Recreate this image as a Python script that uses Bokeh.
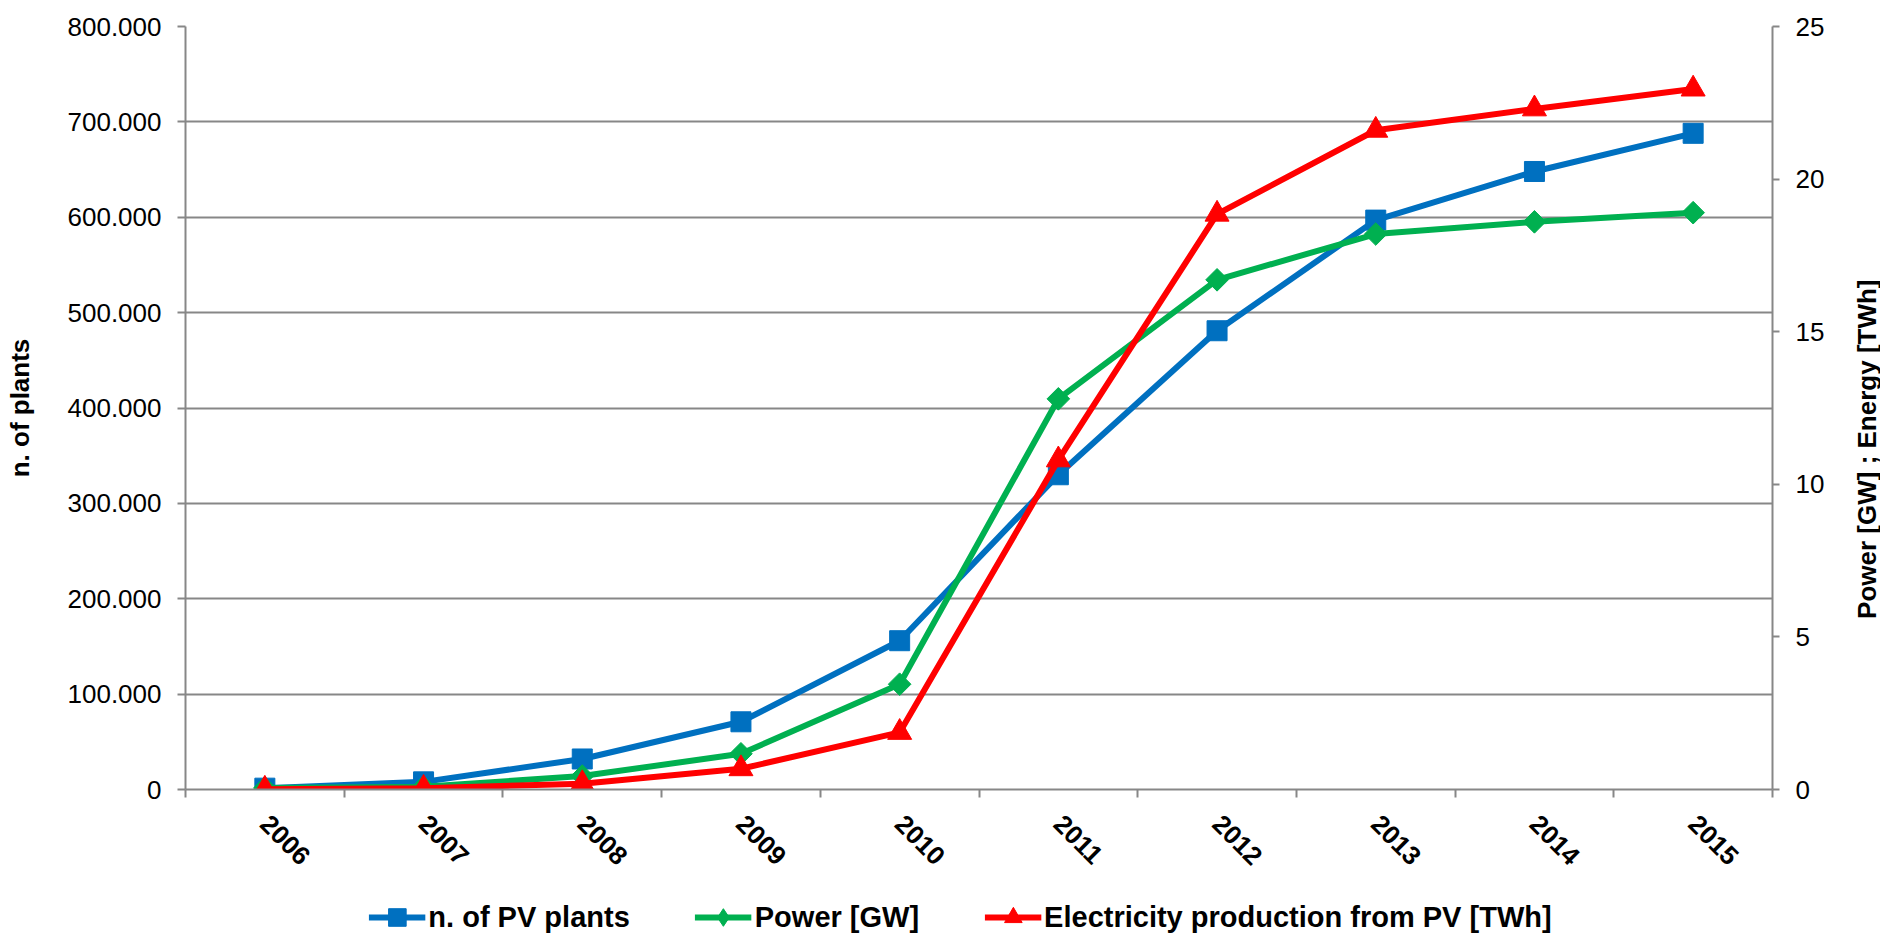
import math
from bokeh.plotting import figure
from bokeh.layouts import column, row
from bokeh.models import Range1d, LinearAxis, FixedTicker, Legend, LegendItem, Label
from bokeh.embed import file_html
from bokeh.resources import INLINE

# ---- data ----
years = ["2006", "2007", "2008", "2009", "2010", "2011", "2012", "2013", "2014", "2015"]
plants = [1400, 8000, 32000, 71000, 156000, 330000, 481000, 597000, 648000, 688000]
power_gw = [0.05, 0.09, 0.44, 1.17, 3.45, 12.8, 16.7, 18.2, 18.6, 18.9]
energy_twh = [0.01, 0.04, 0.19, 0.68, 1.87, 10.8, 18.85, 21.6, 22.3, 22.95]
left_ticks = [0, 100000, 200000, 300000, 400000, 500000, 600000, 700000, 800000]
right_ticks = [0, 5, 10, 15, 20, 25]
series_labels = ["n. of PV plants", "Power [GW]", "Electricity production from PV [TWh]"]
left_title = "n. of plants"
right_title = "Power [GW] ; Energy [TWh]"

BLUE = "#0070C0"
GREEN = "#00B050"
RED = "#FF0000"
GRAY = "#878787"
FONT = "Liberation Sans"

n = len(years)
xc = [i + 0.5 for i in range(n)]
bounds = list(range(n + 1))

W = 1880          # total width
WR = 28           # width of right title strip
WP = W - WR       # main figure width
H1, H2 = 876, 58
FL, FT, FR, FB = 185, 26, 1772, 790  # frame box in canvas px

p = figure(width=WP, height=H1, output_backend="svg", toolbar_location=None,
           x_range=Range1d(0, n), y_range=Range1d(left_ticks[0], left_ticks[-1]),
           min_border_left=FL, min_border_top=FT,
           min_border_right=WP - FR, min_border_bottom=H1 - FB)
p.outline_line_color = None
p.background_fill_color = "white"
p.border_fill_color = "white"

p.extra_y_ranges = {"right": Range1d(right_ticks[0], right_ticks[-1])}

# x axis
xa = p.xaxis[0]
xa.ticker = FixedTicker(ticks=xc, minor_ticks=bounds)
xa.major_label_overrides = {x: y for x, y in zip(xc, years)}
xa.major_tick_out = 0
xa.major_tick_in = 0
xa.minor_tick_out = 8
xa.minor_tick_in = 0
xa.minor_tick_line_color = GRAY
xa.minor_tick_line_width = 2
xa.axis_line_color = GRAY
xa.axis_line_width = 2
xa.major_label_orientation = -math.pi / 4
xa.major_label_standoff = 22
xa.major_label_text_font = FONT
xa.major_label_text_font_size = "26px"
xa.major_label_text_font_style = "bold"
xa.major_label_text_color = "black"

# left axis
ya = p.yaxis[0]
ya.ticker = FixedTicker(ticks=left_ticks)
ya.major_label_overrides = {v: f"{v:,}".replace(",", ".") for v in left_ticks}
ya.minor_tick_line_color = None
ya.major_tick_out = 8
ya.major_tick_in = 0
ya.major_tick_line_color = GRAY
ya.major_tick_line_width = 2
ya.axis_line_color = GRAY
ya.axis_line_width = 2
ya.major_label_standoff = 16
ya.major_label_text_font = FONT
ya.major_label_text_font_size = "26px"
ya.major_label_text_color = "black"
ya.axis_label = left_title
ya.axis_label_text_font = FONT
ya.axis_label_text_font_size = "26px"
ya.axis_label_text_font_style = "bold"
ya.axis_label_text_color = "black"
ya.axis_label_standoff = 30

# right axis
ra = LinearAxis(y_range_name="right", ticker=FixedTicker(ticks=right_ticks))
ra.minor_tick_line_color = None
ra.major_tick_out = 7
ra.major_tick_in = 0
ra.major_tick_line_color = GRAY
ra.major_tick_line_width = 2
ra.axis_line_color = GRAY
ra.axis_line_width = 2
ra.major_label_standoff = 16
ra.major_label_text_font = FONT
ra.major_label_text_font_size = "26px"
ra.major_label_text_color = "black"
p.add_layout(ra, "right")

# grid
p.xgrid.visible = False
p.ygrid.ticker = FixedTicker(ticks=left_ticks)
p.ygrid.grid_line_color = GRAY
p.ygrid.grid_line_width = 2

# series
LW = 6
MS = dict(square=20, diamond=16, triangle=24)
p.line(xc, plants, line_color=BLUE, line_width=LW)
p.scatter(xc, plants, marker="square", size=MS["square"], fill_color=BLUE, line_color=BLUE)
p.line(xc, power_gw, line_color=GREEN, line_width=LW, y_range_name="right")
p.scatter(xc, power_gw, marker="square", angle=math.pi / 4, size=MS["diamond"],
          fill_color=GREEN, line_color=GREEN, y_range_name="right")
p.line(xc, energy_twh, line_color=RED, line_width=LW, y_range_name="right")
p.scatter(xc, energy_twh, marker="triangle", size=MS["triangle"], fill_color=RED,
          line_color=RED, y_range_name="right")

# right axis title strip (reads bottom-to-top), frame aligned with the main frame
r = figure(width=WR, height=H1, output_backend="svg", toolbar_location=None,
           x_range=Range1d(0, 1), y_range=Range1d(right_ticks[0], right_ticks[-1]),
           x_axis_type=None, y_axis_type=None,
           min_border_left=0, min_border_right=0, min_border_top=FT, min_border_bottom=H1 - FB)
r.outline_line_color = None
r.background_fill_color = "white"
r.border_fill_color = "white"
r.add_layout(Label(x=0.5, y=11.15, text=right_title, angle=math.pi / 2,
                   text_align="center", text_baseline="middle", text_font=FONT,
                   text_font_size="26px", text_font_style="bold", text_color="black"))

# legend strip (own small figure so it is not clipped); proxy glyphs sit outside its ranges
q = figure(width=W, height=H2, output_backend="svg", toolbar_location=None,
           x_range=Range1d(0, 1), y_range=Range1d(0, 1), x_axis_type=None, y_axis_type=None,
           min_border_left=40, min_border_right=0, min_border_top=24, min_border_bottom=0)
q.outline_line_color = None
q.background_fill_color = "white"
q.border_fill_color = "white"
colors = [BLUE, GREEN, RED]
markers = ["square", "diamond", "triangle"]
items = []
for lab, c, mk in zip(series_labels, colors, markers):
    lr = q.line([-5, -4], [-5, -5], line_color=c, line_width=LW)
    sr = q.scatter([-5], [-5], marker=mk, fill_color=c, line_color=c)
    items.append(LegendItem(label=lab, renderers=[lr, sr]))

legend = Legend(items=items, orientation="horizontal", location="center")
legend.label_text_font = FONT
legend.label_text_font_size = "29px"
legend.label_text_font_style = "bold"
legend.label_text_color = "black"
legend.glyph_width = 57
legend.glyph_height = 44
legend.label_standoff = 3
legend.spacing = 65
legend.border_line_color = None
legend.background_fill_alpha = 0
legend.margin = 0
legend.padding = 0
q.add_layout(legend)

layout = column(row(p, r, spacing=0), q, spacing=0)
open("out.html", "w").write(file_html(layout, INLINE))
